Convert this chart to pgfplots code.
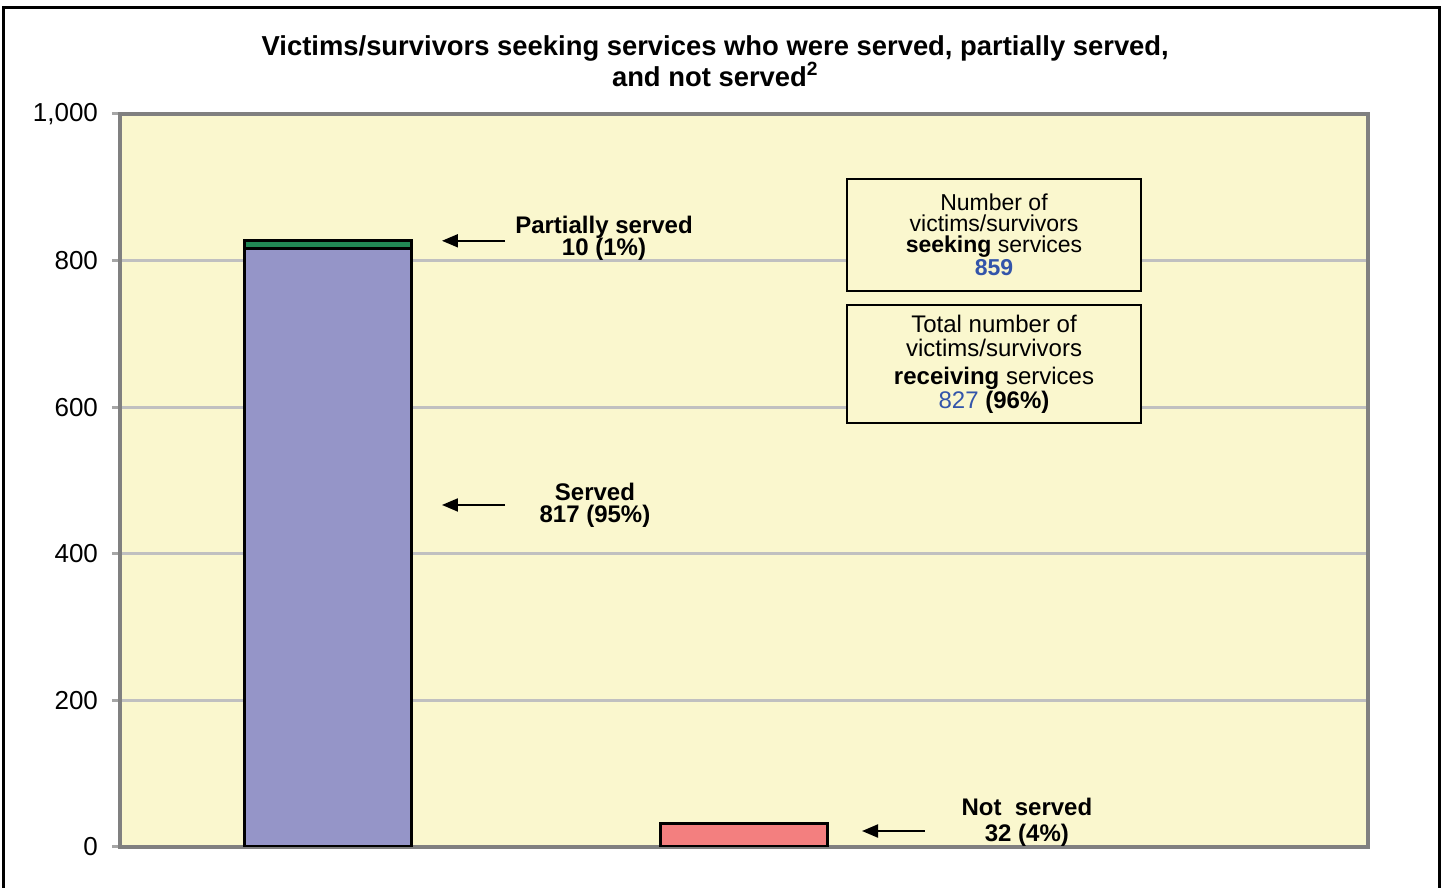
\documentclass[border=0pt]{standalone}
\usepackage{fontspec}
\setmainfont{Liberation Sans}
\usepackage{pgfplots}
\pgfplotsset{compat=1.18}
\usetikzlibrary{arrows.meta}

\definecolor{chartbg}{RGB}{250,247,206}
\definecolor{servedc}{RGB}{149,149,200}
\definecolor{partc}{RGB}{34,136,85}
\definecolor{notc}{RGB}{243,127,127}
\definecolor{gridgray}{RGB}{192,192,192}
\definecolor{spinegray}{RGB}{128,128,128}
\definecolor{numblue}{RGB}{51,85,170}

\lineskiplimit=-100pt

\begin{document}
\begin{tikzpicture}
\useasboundingbox (0pt,0pt) rectangle (721pt,444pt);
\begin{axis}[
  at={(60pt,20.5pt)}, anchor=south west,
  scale only axis, width=624pt, height=366.5pt,
  ybar stacked, bar width=0.4,
  xmin=-0.5, xmax=2.5, ymin=0, ymax=1000,
  xtick=\empty,
  ytick={0,200,...,1000},
  ytick pos=left,
  tick align=outside,
  major tick length=4pt,
  y tick style={draw=spinegray!70, line width=1.5pt},
  axis line style={draw=spinegray, line width=2pt},
  axis background/.style={fill=chartbg},
  ymajorgrids,
  major grid style={draw=gridgray, line width=1.5pt},
  /pgf/number format/assume math mode=true,
  /pgf/number format/1000 sep={,},
  tick label style={font=\fontsize{13}{15}\selectfont},
  yticklabel style={xshift=-3.5pt},
  title={Victims/survivors seeking services who were served, partially served,\\and not served\textsuperscript{2}},
  title style={at={(0.477,1)}, anchor=center, yshift=20.5pt, align=center,
    font=\bfseries\fontsize{13.7}{15.5}\selectfont},
]
% served, partially served, not served
\addplot[fill=servedc, draw=black, line width=1.6pt] coordinates {(0,817) (1,0)};
\addplot[fill=partc, draw=black, line width=1.6pt] coordinates {(0,10) (1,0)};
\addplot[fill=notc, draw=black, line width=1.6pt] coordinates {(0,0) (1,32)};

% arrows and labels
\tikzset{callout/.style={-{Triangle[length=8pt,width=6.5pt]}, line width=1pt}}
\draw[callout] (axis cs:0.4255,827) -- (axis cs:0.274,827);
\draw[callout] (axis cs:0.4255,466.6) -- (axis cs:0.274,466.6);
\draw[callout] (axis cs:1.435,21.8) -- (axis cs:1.2837,21.8);

\node[font=\bfseries\fontsize{12}{11}\selectfont, align=center] at (axis cs:0.6635,830.8) {Partially served\\10 (1\%)};
\node[font=\bfseries\fontsize{12}{11}\selectfont, align=center] at (axis cs:0.6418,466.6) {Served\\817 (95\%)};
\node[font=\bfseries\fontsize{12}{13}\selectfont, align=center] at (axis cs:1.680,34.1) {Not\ \ served\\32 (4\%)};

\node[draw=black, line width=1.2pt, fill=chartbg, minimum width=147pt, minimum height=56pt,
  align=center, font=\fontsize{11.5}{10.5}\selectfont] at (axis cs:1.601,834.9)
  {Number of\\victims/survivors\\\textbf{seeking} services\\[1pt]\textcolor{numblue}{\textbf{859}}};
\node[draw=black, line width=1.2pt, fill=chartbg, minimum width=147pt, minimum height=59pt,
  align=center, font=\fontsize{12}{12}\selectfont] at (axis cs:1.601,658.9)
  {Total number of\\victims/survivors\\[2pt]\textbf{receiving} services\\\textcolor{numblue}{827}\ \textbf{(96\%)}};
\end{axis}
\draw[line width=1.5pt] (1.5pt,-10pt) -- (1.5pt,440pt) -- (719.5pt,440pt) -- (719.5pt,-10pt);
\end{tikzpicture}
\end{document}
